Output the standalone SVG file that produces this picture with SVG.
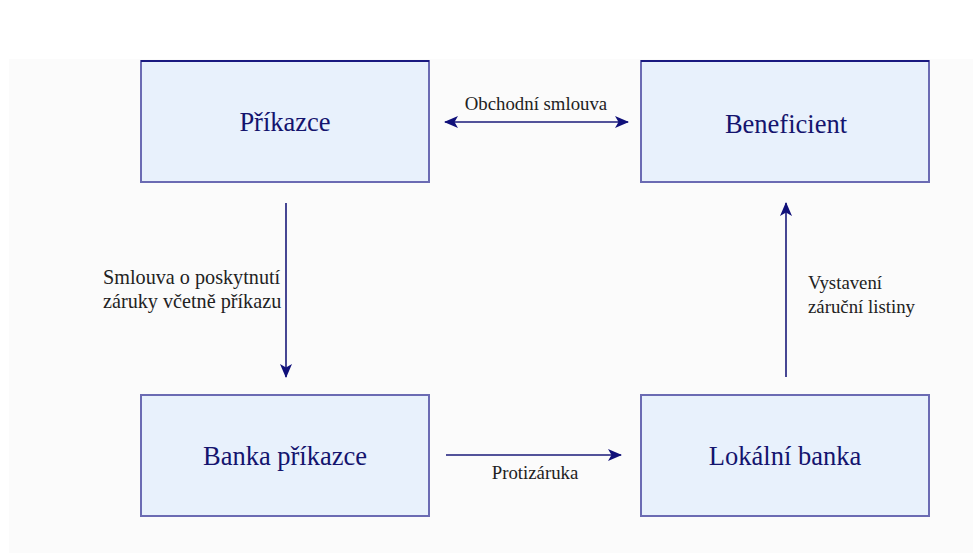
<svg xmlns="http://www.w3.org/2000/svg" width="973" height="553" viewBox="0 0 973 553">
<style>
.box{fill:#e8f1fc;stroke:#6b6bb3;stroke-width:2}
.boxtop{stroke:#1a1a80;stroke-width:2}
.nlabel{font-family:'Liberation Serif','Times New Roman','DejaVu Serif',serif;font-size:26.5px;fill:#14146e;text-anchor:middle}
.elabel{font-family:'Liberation Serif','Times New Roman','DejaVu Serif',serif;font-size:18.8px;fill:#222}
.conn{stroke:#1a1a7a;stroke-width:1.6;fill:none}
</style>
<defs>
<marker id="ah" viewBox="0 0 14 12" refX="13" refY="6" markerWidth="14" markerHeight="12" markerUnits="userSpaceOnUse" orient="auto-start-reverse">
<path d="M0,0 L14,6 L0,12 L3.5,6 Z" fill="#10107a"/>
</marker>
</defs>
<rect x="0" y="0" width="973" height="553" fill="#ffffff"/>
<rect x="9" y="59" width="964" height="494" fill="#fbfbfb"/>
<g id="prikazce">
<rect class="box" x="141" y="61" width="288" height="121"/>
<line class="boxtop" x1="141" y1="61" x2="429" y2="61"/>
<text class="nlabel" x="285" y="131">Příkazce</text>
</g>
<g id="beneficient">
<rect class="box" x="641" y="61" width="288" height="121"/>
<line class="boxtop" x1="641" y1="61" x2="929" y2="61"/>
<text class="nlabel" x="786" y="133">Beneficient</text>
</g>
<g id="banka-prikazce">
<rect class="box" x="141" y="395" width="288" height="121"/>
<text class="nlabel" x="285" y="465">Banka příkazce</text>
</g>
<g id="lokalni-banka">
<rect class="box" x="641" y="395" width="288" height="121"/>
<text class="nlabel" x="785" y="465">Lokální banka</text>
</g>
<g id="connectors">
<line class="conn" x1="445" y1="122" x2="628" y2="122" marker-start="url(#ah)" marker-end="url(#ah)"/>
<text class="elabel" x="536" y="110" text-anchor="middle">Obchodní smlouva</text>
<line class="conn" x1="286" y1="203" x2="286" y2="377" marker-end="url(#ah)"/>
<text class="elabel" x="103" y="284" style="font-size:20.2px">Smlouva o poskytnutí</text>
<text class="elabel" x="103" y="308" style="font-size:20.2px">záruky včetně příkazu</text>
<line class="conn" x1="446" y1="455" x2="621" y2="455" marker-end="url(#ah)"/>
<text class="elabel" x="535" y="479" text-anchor="middle">Protizáruka</text>
<line class="conn" x1="786" y1="377" x2="786" y2="203" marker-end="url(#ah)"/>
<text class="elabel" x="808" y="289">Vystavení</text>
<text class="elabel" x="808" y="313">záruční listiny</text>
</g>
</svg>
